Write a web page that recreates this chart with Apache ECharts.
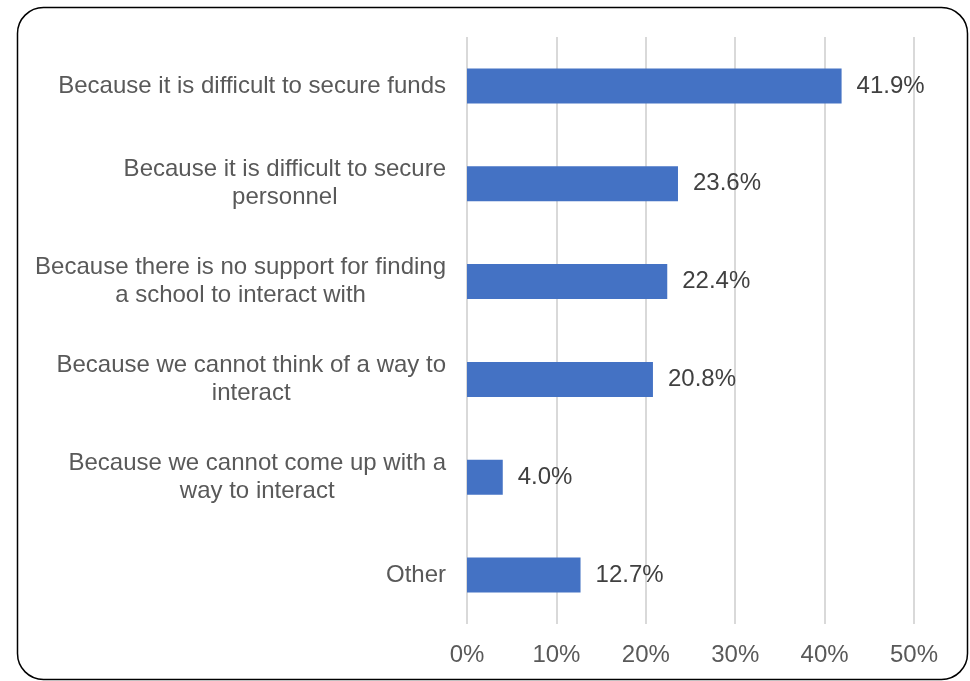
<!DOCTYPE html>
<html>
<head>
<meta charset="utf-8">
<script src="https://cdn.jsdelivr.net/npm/echarts@6/dist/echarts.min.js"></script>
<style>
  html, body { margin: 0; padding: 0; background: #ffffff; }
  #chart { width: 970px; height: 681px; }
</style>
</head>
<body>
<div id="chart"></div>
<script>
// Reasons listed top to bottom
const categories = [
  'Because it is difficult to secure funds',
  'Because it is difficult to secure\npersonnel',
  'Because there is no support for finding\na school to interact with',
  'Because we cannot think of a way to\ninteract',
  'Because we cannot come up with a\nway to interact',
  'Other'
];
const shares = [41.9, 23.6, 22.4, 20.8, 4.0, 12.7];
const tickMax = 50;
const tickStep = 10;

const chart = echarts.init(document.getElementById('chart'), null, { renderer: 'canvas' });

chart.setOption({
  animation: false,
  backgroundColor: '#ffffff',
  textStyle: { fontFamily: '"Liberation Sans", Arial, sans-serif' },
  graphic: [{
    type: 'rect',
    shape: { x: 17.5, y: 7.5, width: 950, height: 672, r: 26 },
    style: { fill: 'none', stroke: '#000000', lineWidth: 1.5 },
    silent: true
  }],
  grid: { left: 467, right: 56, top: 37, bottom: 57, containLabel: false },
  xAxis: {
    type: 'value',
    min: 0,
    max: tickMax,
    interval: tickStep,
    axisLine: { show: false },
    axisTick: { show: false },
    splitLine: { show: true, lineStyle: { color: '#d9d9d9', width: 2 } },
    axisLabel: {
      formatter: v => v + '%',
      color: '#595959',
      fontSize: 24,
      margin: 19
    }
  },
  yAxis: {
    type: 'category',
    inverse: true,
    data: categories,
    axisLine: { show: false },
    axisTick: { show: false },
    axisLabel: {
      margin: 21,
      align: 'right',
      // each line centred within the right-anchored label block
      formatter: v => v.split('\n').map(s => '{c|' + s + '}').join('\n'),
      rich: {
        c: {
          color: '#595959',
          fontSize: 24,
          lineHeight: 28,
          align: 'center',
          fontFamily: '"Liberation Sans", Arial, sans-serif'
        }
      }
    }
  },
  series: [{
    type: 'bar',
    data: shares,
    barWidth: 35,
    itemStyle: { color: '#4472C4' },
    label: {
      show: true,
      position: 'right',
      distance: 15,
      color: '#404040',
      fontSize: 24,
      formatter: p => p.value.toFixed(1) + '%'
    }
  }]
});
</script>
</body>
</html>
